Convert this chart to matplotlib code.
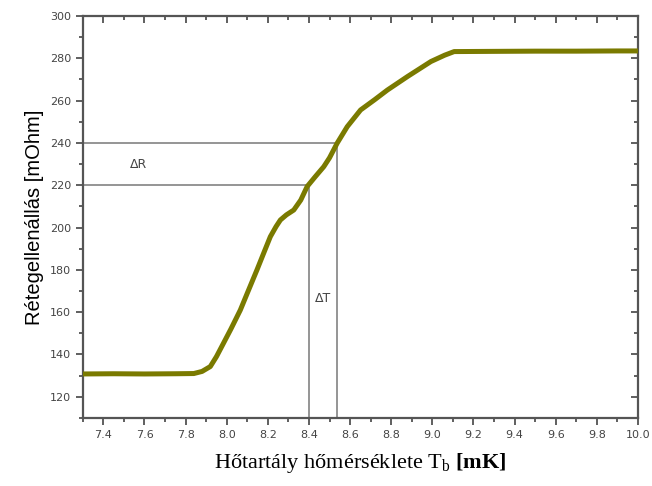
import matplotlib
matplotlib.use("Agg")
import matplotlib.pyplot as plt
from matplotlib.ticker import MultipleLocator

# Data
temp_mK = [7.30, 7.45, 7.60, 7.75, 7.84, 7.88, 7.92, 7.95, 7.984, 8.02, 8.066, 8.10,
           8.147, 8.18, 8.212, 8.24, 8.261, 8.29, 8.326, 8.36, 8.391, 8.43, 8.472,
           8.50, 8.537, 8.586, 8.651, 8.72, 8.781, 8.879, 8.993, 9.06, 9.106, 9.30,
           9.50, 9.70, 9.90, 10.0]
resistance = [130.8, 130.9, 130.8, 130.9, 131.0, 132.0, 134.3, 139.0, 145.3, 152.0, 161.0, 169.0,
              180.0, 188.0, 195.7, 200.5, 203.6, 206.0, 208.3, 213.0, 219.4, 224.0, 228.8,
              233.0, 239.9, 247.7, 255.6, 260.5, 265.0, 271.4, 278.5, 281.5, 283.2, 283.3,
              283.4, 283.4, 283.5, 283.5]

ref_R = [220, 240]
ref_T = [8.40, 8.535]

xticks = [7.4, 7.6, 7.8, 8.0, 8.2, 8.4, 8.6, 8.8, 9.0, 9.2, 9.4, 9.6, 9.8, 10.0]
yticks = [120, 140, 160, 180, 200, 220, 240, 260, 280, 300]

plt.rcParams['mathtext.fontset'] = 'custom'
plt.rcParams['mathtext.rm'] = 'Liberation Serif'
plt.rcParams['mathtext.bf'] = 'Liberation Serif:bold'

fig = plt.figure(figsize=(6.52, 4.86), dpi=100)
ax = fig.add_axes([0.127, 0.14, 0.8515, 0.827])

ax.set_xlim(7.3, 10.0)
ax.set_ylim(110, 300)

# reference lines
for T, R in zip(ref_T, ref_R):
    ax.plot([7.3, T], [R, R], color='#8c8c8c', lw=1.3, zorder=1)
    ax.plot([T, T], [110, R], color='#8c8c8c', lw=1.3, zorder=1)

ax.plot(temp_mK, resistance, color='#7a7a00', lw=3.6, solid_capstyle='round', zorder=3)

ax.text(7.53, 228, 'ΔR', fontsize=9, color='#444444', family='DejaVu Sans')
ax.text(8.43, 165, 'ΔT', fontsize=9, color='#444444', family='DejaVu Sans')

ax.set_xticks(xticks)
ax.set_yticks(yticks)
ax.set_xticklabels([f'{t:.1f}' for t in xticks])
ax.set_yticklabels([str(t) for t in yticks])
ax.xaxis.set_minor_locator(MultipleLocator(0.1))
ax.yaxis.set_minor_locator(MultipleLocator(10))

for s in ax.spines.values():
    s.set_color('#555555')
    s.set_linewidth(1.6)

ax.tick_params(axis='both', which='major', labelsize=8, labelcolor='#444444',
               color='#444444', width=1.2, length=5, direction='out')
ax.tick_params(axis='both', which='minor', color='#444444', width=1.2, length=3,
               direction='out')

# inward ticks on top and right
top = ax.secondary_xaxis('top')
top.set_xticks(xticks)
top.xaxis.set_minor_locator(MultipleLocator(0.1))
top.tick_params(which='major', direction='in', length=5, width=1.2, color='#444444',
                labeltop=False)
top.tick_params(which='minor', direction='in', length=3, width=1.2, color='#444444')
top.spines['top'].set_visible(False)
right = ax.secondary_yaxis('right')
right.set_yticks(yticks)
right.yaxis.set_minor_locator(MultipleLocator(10))
right.tick_params(which='major', direction='in', length=5, width=1.2, color='#444444',
                  labelright=False)
right.tick_params(which='minor', direction='in', length=3, width=1.2, color='#444444')
right.spines['right'].set_visible(False)

ax.set_ylabel('Rétegellenállás [mOhm]', fontsize=14.5, family='Liberation Sans',
              labelpad=4)
ax.set_xlabel(r'Hőtartály hőmérséklete $\mathrm{T}_{\mathrm{b}}$ $\mathbf{[mK]}$',
              fontsize=16, family='Liberation Serif', labelpad=8)

fig.savefig('out.png', dpi=100)
